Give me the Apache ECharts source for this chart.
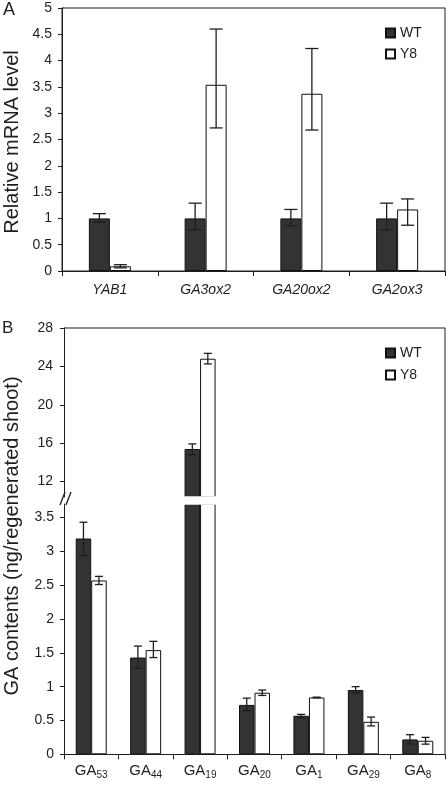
<!DOCTYPE html>
<html><head><meta charset="utf-8">
<script src="https://cdn.jsdelivr.net/npm/echarts@6/dist/echarts.min.js"></script>
<style>html,body{margin:0;padding:0;background:#fff}#c{width:448px;height:787px}</style>
</head><body><div id="c"></div>
<script>
// ---- Panel A data ----
const genesA = ['YAB1', 'GA3ox2', 'GA20ox2', 'GA2ox3'];
const wtA    = [1.00, 1.00, 1.00, 1.00];
const wtA_lo = [0.93, 0.78, 0.86, 0.78];
const wtA_hi = [1.09, 1.29, 1.17, 1.29];
const y8A    = [0.09, 3.54, 3.37, 1.17];
const y8A_lo = [0.06, 2.72, 2.68, 0.87];
const y8A_hi = [0.12, 4.60, 4.23, 1.37];
const yTicksA = [0, 0.5, 1, 1.5, 2, 2.5, 3, 3.5, 4, 4.5, 5];

// ---- Panel B data ----
const gaSub  = ['53', '44', '19', '20', '1', '29', '8'];
const wtB    = [3.19, 1.43, 15.4, 0.73, 0.57, 0.95, 0.22];
const wtB_lo = [2.94, 1.27, 14.8, 0.645, 0.54, 0.91, 0.15];
const wtB_hi = [3.43, 1.60, 15.93, 0.83, 0.59, 1.00, 0.29];
const y8B    = [2.57, 1.54, 24.8, 0.91, 0.84, 0.48, 0.20];
const y8B_lo = [2.51, 1.43, 24.26, 0.87, 0.835, 0.42, 0.15];
const y8B_hi = [2.63, 1.67, 25.36, 0.95, 0.845, 0.55, 0.25];
const yTicksBLow  = [0, 0.5, 1, 1.5, 2, 2.5, 3, 3.5];
const yTicksBHigh = [12, 16, 20, 24, 28];
const lowMax = 3.7, highMin = 10.4, highMax = 28;

const catsB = gaSub.map(s => 'GA' + s);
const FONT = 'Liberation Sans, Arial, sans-serif';
const INK = '#1e1e1e';
const DARK = '#333333';

function errData(lo, hi, keep) {
  return lo.map((l, i) => keep(i) ? [i, l, hi[i]] : [i, NaN, NaN]).filter(d => !isNaN(d[1]));
}
function errRender(side, half, cap) {
  return function (params, api) {
    const i = api.value(0);
    const p1 = api.coord([i, api.value(1)]);
    const p2 = api.coord([i, api.value(2)]);
    const x = p1[0] + side * half;
    const st = { stroke: INK, lineWidth: 1.3 };
    return { type: 'group', children: [
      { type: 'line', shape: { x1: x, y1: p2[1], x2: x, y2: p1[1] }, style: st },
      { type: 'line', shape: { x1: x - cap, y1: p2[1], x2: x + cap, y2: p2[1] }, style: st },
      { type: 'line', shape: { x1: x - cap, y1: p1[1], x2: x + cap, y2: p1[1] }, style: st }
    ]};
  };
}
const axisLineSt = { show: true, lineStyle: { color: INK, width: 1 } };
const tickSt = { show: true, length: 4, lineStyle: { color: INK } };
const labelSt = { color: INK, fontFamily: FONT, fontSize: 14 };

const wtStyle = { color: DARK, borderColor: '#111', borderWidth: 1 };
const y8Style = { color: '#ffffff', borderColor: '#111', borderWidth: 1 };
const legendText = { fontFamily: FONT, fontSize: 14, color: INK, lineHeight: 14 };

const option = {
  animation: false,
  backgroundColor: '#fff',
  grid: [
    { left: 62, top: 8, width: 383, height: 263, show: true, borderColor: INK, borderWidth: 1, backgroundColor: 'transparent' },
    { left: 64, top: 328, width: 381, height: 169 },
    { left: 64, top: 504, width: 381, height: 250.3 }
  ],
  xAxis: [
    { gridIndex: 0, type: 'category', data: genesA, axisLine: axisLineSt,
      axisTick: { show: true, length: 5, lineStyle: { color: INK } },
      axisLabel: Object.assign({}, labelSt, { fontStyle: 'italic', margin: 12 }) },
    { gridIndex: 1, type: 'category', data: catsB, show: false },
    { gridIndex: 2, type: 'category', data: catsB, axisLine: axisLineSt,
      axisTick: { show: true, length: 5, lineStyle: { color: INK } },
      axisLabel: { margin: 8, interval: 0,
        formatter: v => '{a|GA}{s|' + v.slice(2) + '}',
        rich: {
          a: { fontFamily: FONT, fontSize: 15, color: INK, lineHeight: 18 },
          s: { fontFamily: FONT, fontSize: 10, color: INK, lineHeight: 10, padding: [10, 0, 0, 0], verticalAlign: 'bottom' }
        } } }
  ],
  yAxis: [
    { gridIndex: 0, type: 'value', min: 0, max: 5, splitLine: { show: false },
      axisLine: axisLineSt, axisTick: Object.assign({ customValues: yTicksA }, tickSt),
      axisLabel: Object.assign({ customValues: yTicksA, margin: 10 }, labelSt) },
    { gridIndex: 1, type: 'value', min: highMin, max: highMax, splitLine: { show: false },
      axisLine: axisLineSt, axisTick: Object.assign({ customValues: yTicksBHigh }, tickSt),
      axisLabel: Object.assign({ customValues: yTicksBHigh, margin: 11 }, labelSt) },
    { gridIndex: 2, type: 'value', min: 0, max: lowMax, splitLine: { show: false },
      axisLine: axisLineSt, axisTick: Object.assign({ customValues: yTicksBLow }, tickSt),
      axisLabel: Object.assign({ customValues: yTicksBLow, margin: 10 }, labelSt) }
  ],
  legend: [
    { data: ['WT', 'Y8'], orient: 'vertical', left: 380, top: 21, icon: 'rect',
      itemWidth: 9, itemHeight: 9, itemGap: 7, selectedMode: false, textStyle: legendText },
    { data: ['WT', 'Y8'], orient: 'vertical', left: 380, top: 341, icon: 'rect',
      itemWidth: 9, itemHeight: 9, itemGap: 8, selectedMode: false, textStyle: legendText }
  ],
  graphic: [
    { type: 'text', left: 3, top: 1, style: { text: 'A', fontFamily: FONT, fontSize: 18, fill: INK } },
    { type: 'text', left: 2, top: 320, style: { text: 'B', fontFamily: FONT, fontSize: 17, fill: INK } },
    { type: 'text', x: 12, y: 142, rotation: Math.PI / 2,
      style: { text: 'Relative mRNA level', fontFamily: FONT, fontSize: 20, fill: INK, align: 'center', verticalAlign: 'middle' } },
    { type: 'text', x: 12, y: 536, rotation: Math.PI / 2,
      style: { text: 'GA contents (ng/regenerated shoot)', fontFamily: FONT, fontSize: 20, fill: INK, align: 'center', verticalAlign: 'middle' } },
    { type: 'rect', z: 100, shape: { x: 65, y: 496.2, width: 379, height: 8.6 }, style: { fill: '#fff' } },
    { type: 'polyline', z: 101, shape: { points: [[64, 328], [445, 328], [445, 754.3]] }, style: { stroke: INK, lineWidth: 1, fill: null } },
    { type: 'line', z: 101, shape: { x1: 60, y1: 505, x2: 65, y2: 492 }, style: { stroke: INK, lineWidth: 1.3 } },
    { type: 'line', z: 101, shape: { x1: 66, y1: 505, x2: 71, y2: 492 }, style: { stroke: INK, lineWidth: 1.3 } }
  ],
  series: [
    // Panel A
    { name: 'WT', type: 'bar', xAxisIndex: 0, yAxisIndex: 0, data: wtA, barWidth: 21, barGap: '0%', itemStyle: wtStyle },
    { name: 'Y8', type: 'bar', xAxisIndex: 0, yAxisIndex: 0, data: y8A, barWidth: 21, barGap: '0%', itemStyle: y8Style },
    { type: 'custom', xAxisIndex: 0, yAxisIndex: 0, z: 5, renderItem: errRender(-1, 10.5, 6.5),
      encode: { x: 0, y: [1, 2] }, data: errData(wtA_lo, wtA_hi, () => true) },
    { type: 'custom', xAxisIndex: 0, yAxisIndex: 0, z: 5, renderItem: errRender(1, 10.5, 6.5),
      encode: { x: 0, y: [1, 2] }, data: errData(y8A_lo, y8A_hi, () => true) },
    // Panel B upper
    { name: 'WT', type: 'bar', xAxisIndex: 1, yAxisIndex: 1, data: wtB.map(v => v > lowMax ? v : '-'),
      barWidth: 15.5, barGap: '0%', itemStyle: wtStyle },
    { name: 'Y8', type: 'bar', xAxisIndex: 1, yAxisIndex: 1, data: y8B.map(v => v > lowMax ? v : '-'),
      barWidth: 15.5, barGap: '0%', itemStyle: y8Style },
    { type: 'custom', xAxisIndex: 1, yAxisIndex: 1, z: 5, renderItem: errRender(-1, 7.75, 4),
      encode: { x: 0, y: [1, 2] }, data: errData(wtB_lo, wtB_hi, i => wtB[i] > lowMax) },
    { type: 'custom', xAxisIndex: 1, yAxisIndex: 1, z: 5, renderItem: errRender(1, 7.75, 4),
      encode: { x: 0, y: [1, 2] }, data: errData(y8B_lo, y8B_hi, i => y8B[i] > lowMax) },
    // Panel B lower
    { name: 'WT', type: 'bar', xAxisIndex: 2, yAxisIndex: 2, data: wtB, clip: true,
      barWidth: 15.5, barGap: '0%', itemStyle: wtStyle },
    { name: 'Y8', type: 'bar', xAxisIndex: 2, yAxisIndex: 2, data: y8B, clip: true,
      barWidth: 15.5, barGap: '0%', itemStyle: y8Style },
    { type: 'custom', xAxisIndex: 2, yAxisIndex: 2, z: 5, renderItem: errRender(-1, 7.75, 4),
      encode: { x: 0, y: [1, 2] }, data: errData(wtB_lo, wtB_hi, i => wtB[i] <= lowMax) },
    { type: 'custom', xAxisIndex: 2, yAxisIndex: 2, z: 5, renderItem: errRender(1, 7.75, 4),
      encode: { x: 0, y: [1, 2] }, data: errData(y8B_lo, y8B_hi, i => y8B[i] <= lowMax) }
  ]
};
const chart = echarts.init(document.getElementById('c'), null, { renderer: 'canvas' });
chart.setOption(option);
</script>
</body></html>
